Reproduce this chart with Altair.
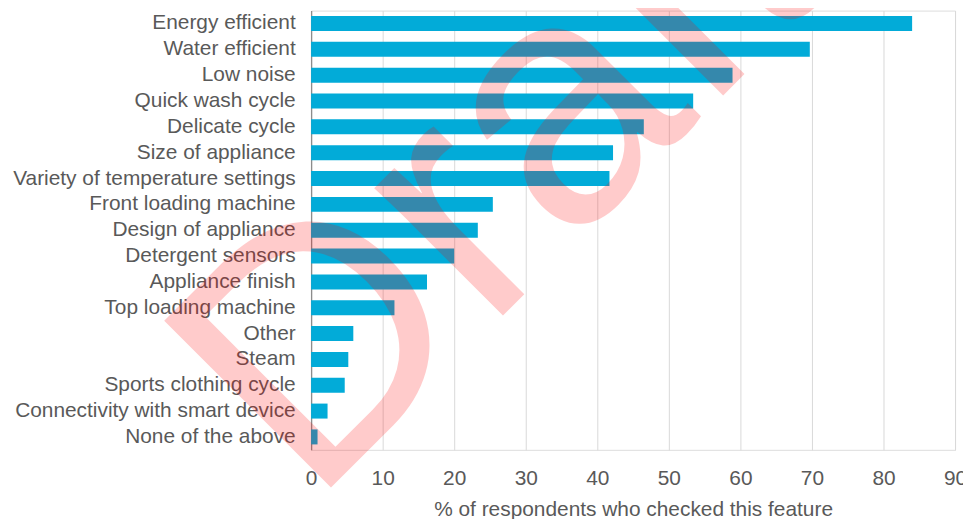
import altair as alt
import pandas as pd

features = [
    "Energy efficient", "Water efficient", "Low noise", "Quick wash cycle",
    "Delicate cycle", "Size of appliance", "Variety of temperature settings",
    "Front loading machine", "Design of appliance", "Detergent sensors",
    "Appliance finish", "Top loading machine", "Other\u00a0", "Steam",
    "Sports clothing cycle", "Connectivity with smart device", "None of the above",
]
values = [84.0, 69.7, 58.9, 53.4, 46.5, 42.2, 41.7, 25.4, 23.3, 20.0,
          16.2, 11.65, 5.9, 5.2, 4.7, 2.3, 0.9]
x_ticks = [0, 10, 20, 30, 40, 50, 60, 70, 80, 90]
x_title = "% of respondents who checked this feature"
watermark = ["Draft"]

df = pd.DataFrame({"feature": features, "value": values})

FONT = "Liberation Sans"
GRAY = "#595959"

bars = alt.Chart(df).mark_bar(color="#02ABD8").encode(
    x=alt.X(
        "value:Q",
        scale=alt.Scale(domain=[0, 90], nice=False, zero=True),
        axis=alt.Axis(
            values=x_ticks, grid=True, gridColor="#D9D9D9", gridWidth=1,
            domain=False, ticks=False, labelPadding=18, labelFlush=False,
            labelFont=FONT, labelFontSize=21, labelColor=GRAY,
            title=x_title, titleFont=FONT, titleFontSize=21,
            titleFontWeight="normal", titleColor=GRAY, titlePadding=10,
        ),
    ),
    y=alt.Y(
        "feature:N", sort=features,
        scale=alt.Scale(paddingInner=0.42, paddingOuter=0.21),
        axis=alt.Axis(
            title=None, ticks=False, labelPadding=16, grid=False,
            domain=True, domainColor="#8C8C8C", domainWidth=1.3,
            labelFont=FONT, labelFontSize=21, labelColor=GRAY,
            labelLimit=400,
        ),
    ),
)

wm = alt.Chart(pd.DataFrame({"t": watermark})).mark_text(
    font=FONT, fontSize=345, angle=315, align="left", baseline="alphabetic",
    color="#FF0000", opacity=0.2,
).encode(
    text="t:N",
    x=alt.value(0),
    y=alt.value(500),
)

chart = alt.layer(bars, wm).properties(
    width=648, height=442,
    autosize=alt.AutoSizeParams(type="none"),
    padding={"left": 305, "top": 1, "right": 8, "bottom": 70},
).configure_view(stroke=None).configure(background="white")

chart.save("out.html", embed_options={"renderer": "svg", "actions": False})
